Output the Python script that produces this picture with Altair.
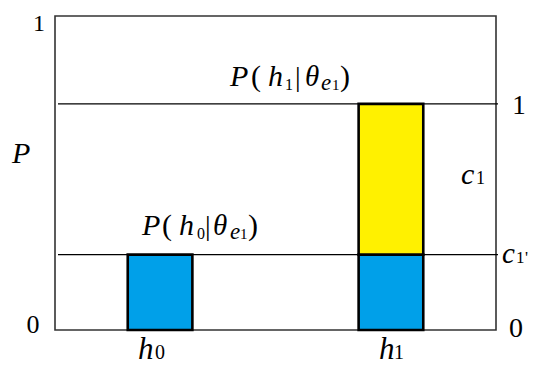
import altair as alt
import pandas as pd

# ---- data ----
categories = ["h0", "h1"]
bar_cat = ["h0", "h1", "h1"]
bar_low = [0.0, 0.0, 0.24]
bar_high = [0.24, 0.24, 0.72]
bar_part = ["c1'", "c1'", "c1"]
level_values = [0.24, 0.72]          # P(h0|θe1)=c1' , P(h1|θe1)=1
part_domain = ["c1'", "c1"]
part_colors = ["#00A0E9", "#FFF100"]

FONT = "Liberation Serif"
W, H = 441, 314

xscale = alt.Scale(type="band", domain=categories, paddingInner=0.72, paddingOuter=0.315)
yscale = alt.Scale(domain=[0, 1], nice=False, zero=True)

bars_df = pd.DataFrame({"cat": bar_cat, "lo": bar_low, "hi": bar_high, "part": bar_part})

bars = alt.Chart(bars_df).mark_bar(stroke="black", strokeWidth=2.6).encode(
    x=alt.X("cat:N", scale=xscale, axis=None),
    y=alt.Y("lo:Q", scale=yscale, axis=None),
    y2="hi:Q",
    color=alt.Color("part:N", scale=alt.Scale(domain=part_domain, range=part_colors), legend=None),
)

rules = alt.Chart(pd.DataFrame({"v": level_values})).mark_rule(color="black", strokeWidth=1.3).encode(
    y=alt.Y("v:Q", scale=yscale, axis=None),
    x=alt.value(3),
    x2=alt.value(W + 2),
)


def piece(text, dx, dy, size, italic, x=None, cat=None, yv=0.0, align="left"):
    df = pd.DataFrame({"cat": [cat if cat else categories[0]], "v": [yv]})
    enc = {"y": alt.Y("v:Q", scale=yscale, axis=None)}
    if cat is not None:
        enc["x"] = alt.X("cat:N", scale=xscale, axis=None)
    else:
        enc["x"] = alt.value(x)
    return alt.Chart(df).mark_text(
        text=text, dx=dx, dy=dy, fontSize=size, font=FONT,
        fontStyle="italic" if italic else "normal",
        align=align, baseline="alphabetic", color="black",
    ).encode(**enc)


layers = [bars, rules]

# P( h0 | θe1 )  above the c1' line
a0 = [("P", -18, -20, 30, True), ("(", 2, -20, 30, False), ("h", 19, -20, 30, True),
      ("0", 37, -16, 16, False), ("|", 45, -20, 28, False), ("θ", 53, -20, 29, True),
      ("e", 70, -16, 23, True), ("1", 80, -16, 15, False), (")", 88, -20, 30, False)]
for t, dx, dy, s, it in a0:
    layers.append(piece(t, dx, dy, s, it, cat="h0", yv=level_values[0]))

# P( h1 | θe1 )  above the top line
a1 = [("P", -161, -18, 30, True), ("(", -140, -18, 30, False), ("h", -123, -18, 30, True),
      ("1", -106, -14, 16, False), ("|", -96, -18, 28, False), ("θ", -86, -18, 29, True),
      ("e", -70, -14, 23, True), ("1", -59, -14, 15, False), (")", -51, -18, 30, False)]
for t, dx, dy, s, it in a1:
    layers.append(piece(t, dx, dy, s, it, cat="h1", yv=level_values[1]))

# category labels under the bars
layers += [
    piece("h", -22, 29, 31, True, cat="h0", yv=0.0),
    piece("0", -5, 29, 20, False, cat="h0", yv=0.0),
    piece("h", -12, 29, 31, True, cat="h1", yv=0.0),
    piece("1", 3, 29, 20, False, cat="h1", yv=0.0),
]

# left axis labels and title
layers += [
    piece("1", 0, 15, 24, False, x=-16, yv=1.0, align="center"),
    piece("0", 0, 3, 26, False, x=-22, yv=0.0, align="center"),
    piece("P", 0, -10, 30, True, x=-43, yv=0.5),
]

# right side labels
mid = (level_values[0] + level_values[1]) / 2
layers += [
    piece("1", 0, 10, 27, False, x=W + 23, yv=level_values[1], align="center"),
    piece("0", 0, 7, 28, False, x=W + 20, yv=0.0, align="center"),
    piece("c", 0, 5, 30, True, x=W - 35, yv=mid),
    piece("1", 0, 5, 18, False, x=W - 20, yv=mid),
    piece("c", 0, 8, 29, True, x=W + 6, yv=level_values[0]),
    piece("1", 0, 8, 17, False, x=W + 20, yv=level_values[0]),
    piece("'", 0, 8, 17, False, x=W + 29, yv=level_values[0]),
]

chart = alt.layer(*layers).properties(
    width=W, height=H,
    autosize=alt.AutoSizeParams(type="none"),
    padding={"left": 47, "top": 8, "right": 33, "bottom": 36},
).configure_view(stroke="#333333", strokeWidth=1.6)

chart.save("out.html", embed_options={"renderer": "svg", "actions": False})
